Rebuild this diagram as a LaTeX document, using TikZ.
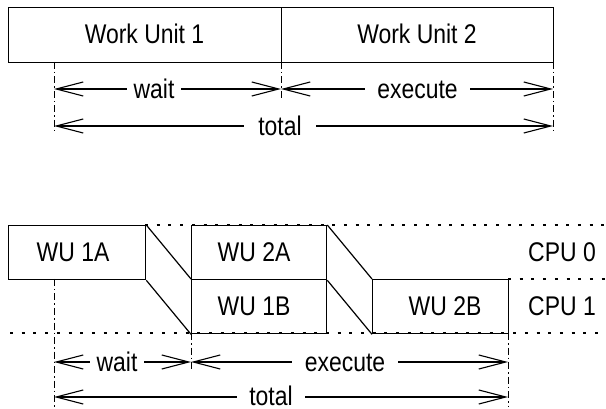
\documentclass[tikz,border=0pt]{standalone}
\usepackage{fontspec}
\setmainfont{Liberation Sans}[FakeStretch=0.85]
\usetikzlibrary{arrows.meta}
\begin{document}
\begin{tikzpicture}[x=1pt,y=-1pt,
  every node/.style={font=\fontsize{27}{31}\selectfont},
  box/.style={draw,line width=1.3pt,inner sep=0pt,anchor=north west},
  lbl/.style={anchor=base,inner sep=0pt},
  dimlbl/.style={anchor=base,fill=white,inner xsep=11pt,inner ysep=0pt},
  guide/.style={line width=1pt,dash pattern=on 7pt off 3pt on 1.5pt off 3pt},
  lane/.style={line width=1.2pt,dash pattern=on 3pt off 8.7pt},
  dimarrow/.style={line width=1.1pt,{Straight Barb[length=27pt,width=14pt,line width=1.1pt]}-{Straight Barb[length=27pt,width=14pt,line width=1.1pt]}},
  slant/.style={line width=1.2pt}]
\useasboundingbox (0,0) rectangle (606,409);

% ---------- top diagram ----------
\node[box,minimum width=273pt,minimum height=55pt] (w1) at (8,7) {};
\node[box,minimum width=272pt,minimum height=55pt] (w2) at (281,7) {};
\node[lbl] (tw1) at (144.5,44) {Work Unit 1};
\node[lbl] (tw2) at (417,44) {Work Unit 2};

\coordinate (g1a) at (54,62);   \coordinate (g1b) at (54,133);
\coordinate (g2a) at (281,62);  \coordinate (g2b) at (281,100);
\coordinate (g3a) at (553,62);  \coordinate (g3b) at (553,133);
\draw[guide] (g1a) -- (g1b);
\draw[guide] (g2a) -- (g2b);
\draw[guide] (g3a) -- (g3b);

\coordinate (tw0) at (54,89);  \coordinate (tw9) at (281,89);
\coordinate (te9) at (553,89);
\coordinate (tt0) at (54,126); \coordinate (tt9) at (553,126);
\draw[dimarrow] (tw0) -- (tw9);
\draw[dimarrow] (tw9) -- (te9);
\draw[dimarrow] (tt0) -- (tt9);
\node[dimlbl,inner xsep=7pt] (twait) at (154,98.5) {wait};
\node[dimlbl,inner xsep=12pt] (texec) at (417.5,98.5) {execute};
\node[dimlbl,inner xsep=14pt] (ttot) at (280,135.5) {total};

% ---------- bottom diagram ----------
\coordinate (l0a) at (145,225); \coordinate (l0b) at (606,225);
\coordinate (l1a) at (508,279); \coordinate (l1b) at (606,279);
\coordinate (l2a) at (10,333);  \coordinate (l2b) at (606,333);
\draw[lane] (l0a) -- (l0b);
\draw[lane] (l1a) -- (l1b);
\draw[lane] (l2a) -- (l2b);

\node[box,minimum width=137pt,minimum height=54pt] (a1) at (8,225) {};
\node[box,minimum width=135pt,minimum height=54pt] (a2) at (191,225) {};
\node[box,minimum width=135pt,minimum height=54pt] (b1) at (191,279) {};
\node[box,minimum width=136pt,minimum height=54pt] (b2) at (372,279) {};

\draw[slant] (a1.north east) -- (b1.north west);
\draw[slant] (a1.south east) -- (b1.south west);
\draw[slant] (a2.north east) -- (b2.north west);
\draw[slant] (a2.south east) -- (b2.south west);

\node[lbl] (ta1) at (73,261.7) {WU 1A};
\node[lbl] (ta2) at (254,261.7) {WU 2A};
\node[lbl] (tb1) at (254,315.7) {WU 1B};
\node[lbl] (tb2) at (445,315.7) {WU 2B};
\node[lbl] (cpu0) at (562,261.7) {CPU 0};
\node[lbl] (cpu1) at (562,315.7) {CPU 1};

\coordinate (h1a) at (54,279);  \coordinate (h1b) at (54,409);
\coordinate (h2a) at (191,333); \coordinate (h2b) at (191,372);
\coordinate (h3a) at (508,333); \coordinate (h3b) at (508,407);
\draw[guide] (h1a) -- (h1b);
\draw[guide] (h2a) -- (h2b);
\draw[guide] (h3a) -- (h3b);

\coordinate (bw0) at (54,362);  \coordinate (bw9) at (191,362);
\coordinate (be9) at (508,362);
\coordinate (bt0) at (54,397);  \coordinate (bt9) at (508,397);
\draw[dimarrow] (bw0) -- (bw9);
\draw[dimarrow] (bw9) -- (be9);
\draw[dimarrow] (bt0) -- (bt9);
\node[dimlbl,inner xsep=7pt] (bwait) at (117,371.5) {wait};
\node[dimlbl,inner xsep=13pt] (bexec) at (345,371.5) {execute};
\node[dimlbl,inner xsep=12pt] (btot) at (271,405) {total};
\end{tikzpicture}
\end{document}
